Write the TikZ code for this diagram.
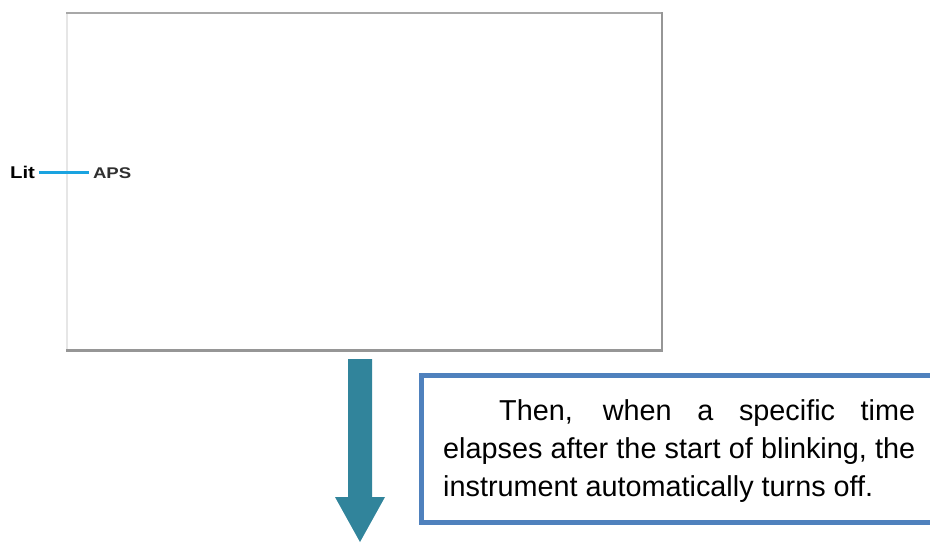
\documentclass[tikz,border=0pt]{standalone}
\usepackage{fontspec}
\setmainfont{Liberation Sans}
\definecolor{framegray}{HTML}{A8A8A8}
\definecolor{framedark}{HTML}{969696}
\definecolor{framelight}{HTML}{E6E6E6}
\definecolor{linkcyan}{HTML}{1AA3E0}
\definecolor{arrowteal}{HTML}{31849B}
\definecolor{boxblue}{HTML}{4F81BD}
\definecolor{apsgray}{HTML}{303030}
\tikzset{
  tag/.style={inner sep=1.5pt, font=\bfseries\fontsize{17}{20}\selectfont, xscale=1.2, anchor=base west},
  notebox/.style={draw=boxblue, line width=5.5pt},
  bodytext/.style={inner sep=0pt, anchor=base west, text width=472pt, align=justify,
    font=\fontsize{28.8}{38}\selectfont},
  bigarrow/.style={fill=arrowteal, draw=none}
}
\begin{document}
\begin{tikzpicture}[x=1pt, y=-1pt]
\useasboundingbox (0,0) rectangle (930,542);
\clip (0,0) rectangle (930,542);
\fill[white] (0,0) rectangle (930,542);
% frame
\draw[framelight, line width=1.5pt] (67,13) -- (67,350);
\draw[framegray, line width=2pt] (66,13) -- (662,13);
\draw[framedark, line width=2pt] (661.5,12) -- (661.5,351);
\draw[framedark, line width=3pt] (66,350.5) -- (663,350.5);
% labels
\node[tag, text=black] (lit) at (8,178.5) {Lit};
\node[tag, text=apsgray, font=\bfseries\fontsize{15.5}{18}\selectfont] (aps) at (91,178.5) {APS};
\draw[linkcyan, line width=3pt, shorten <=2pt, shorten >=2pt] (lit.east) -- (lit.east -| aps.west);
% arrow
\path[bigarrow] (348,359) -- (372,359) -- (372,497) -- (385,497) -- (360,542) -- (335,497) -- (348,497) -- cycle;
% note box
\draw[notebox] (421.5,375.5) rectangle (945,522.5);
\node[bodytext] (note) at (443,420) {\hspace*{56pt}Then, when a specific time\linebreak elapses after the start of blinking, the\linebreak instrument automatically turns off.};
\end{tikzpicture}
\end{document}
